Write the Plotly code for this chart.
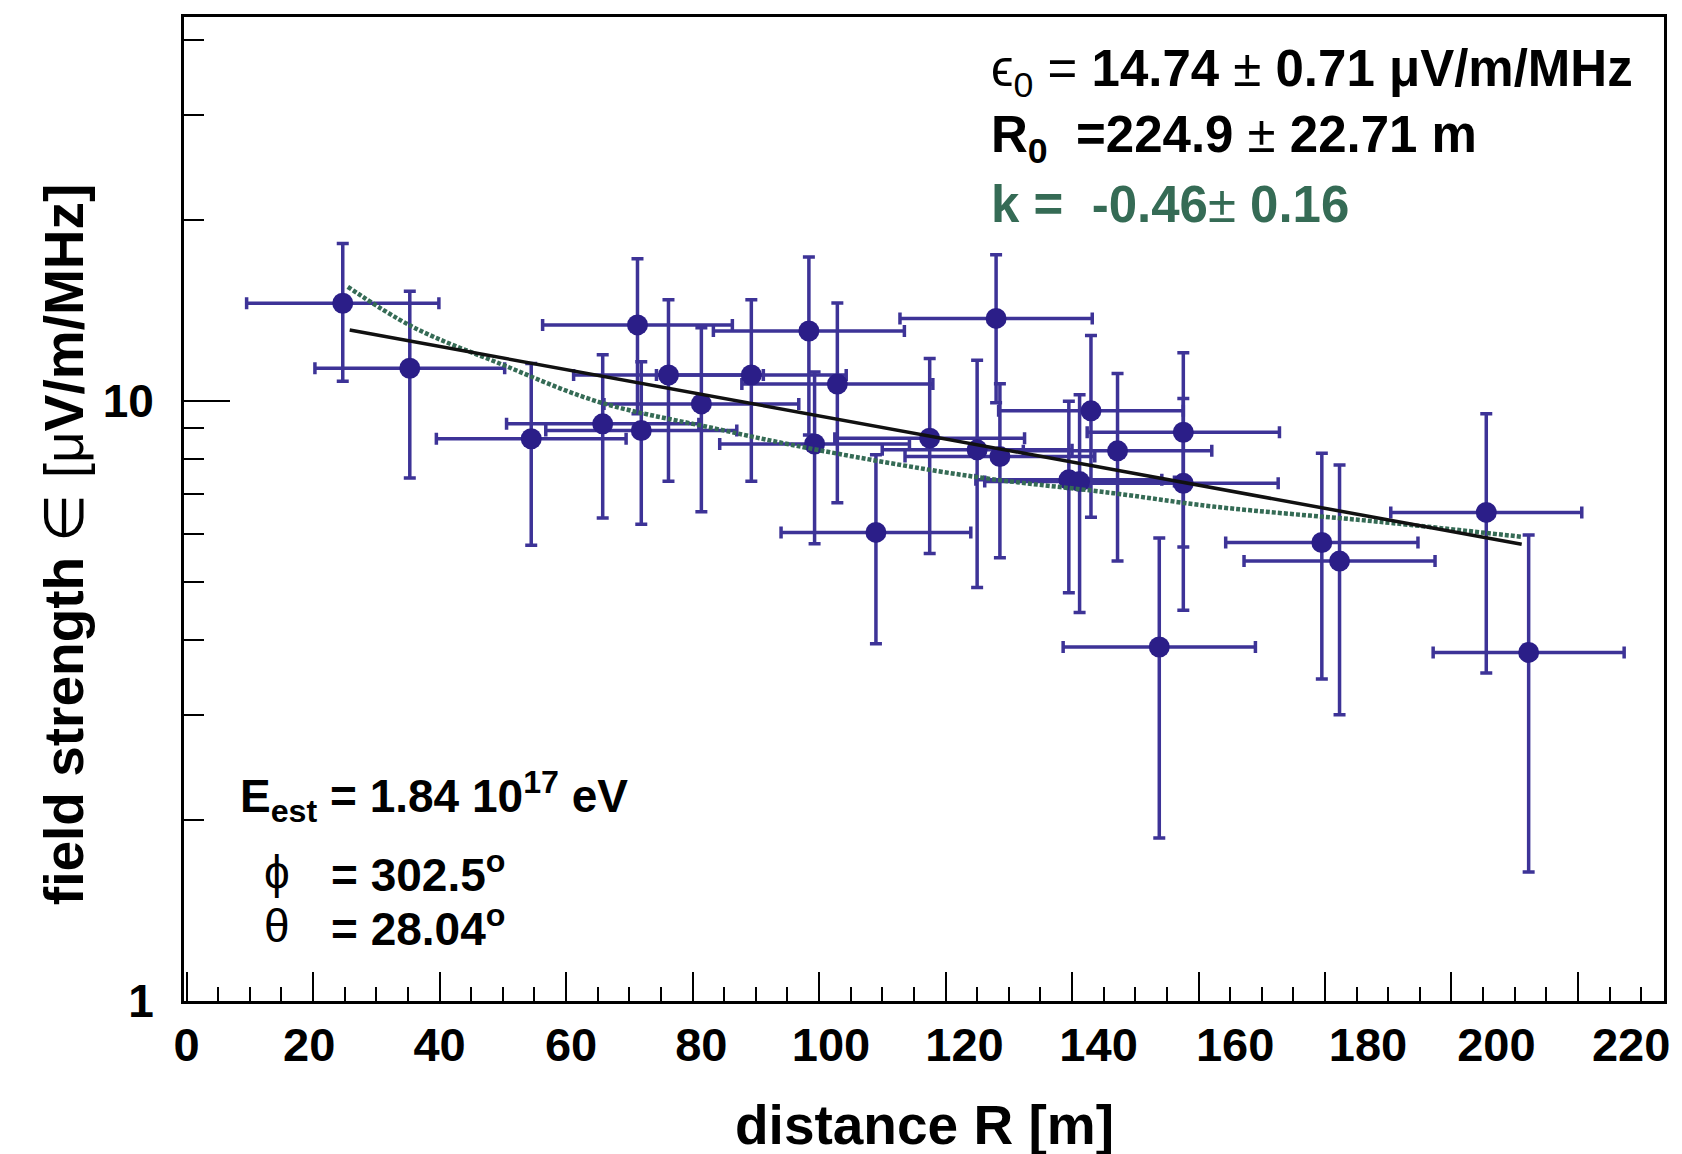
import plotly.graph_objects as go

# ---------------- data ----------------
distance = [24.7, 35.3, 54.5, 65.8, 71.3, 71.9, 76.2, 81.4, 89.3, 98.4, 99.3, 102.9,
            109.0, 117.5, 125.0, 128.0, 128.6, 139.5, 141.2, 143.0, 147.2, 153.8,
            157.6, 157.6, 179.5, 182.3, 205.5, 212.2]
distance_err = [15.2, 15.0, 15.0, 15.2, 15.0, 15.1, 15.0, 15.4, 15.0, 15.1, 15.0, 15.1,
                15.0, 15.0, 15.0, 15.2, 15.0, 14.7, 15.0, 14.6, 14.9, 15.2,
                15.2, 15.0, 15.2, 15.1, 15.1, 15.1]
field = [14.55, 11.34, 8.65, 9.16, 13.39, 8.93, 11.05, 9.89, 11.05, 13.08, 8.48, 10.67,
         6.04, 8.67, 8.29, 13.73, 8.08, 7.39, 7.34, 9.63, 8.26, 3.89,
         8.87, 7.29, 5.81, 5.41, 6.52, 3.81]
field_err = [3.76, 3.90, 2.90, 2.78, 3.87, 2.70, 3.70, 3.35, 3.70, 4.30, 2.70, 3.90,
             2.10, 3.10, 3.40, 3.80, 2.60, 2.60, 2.90, 3.23, 2.85, 2.02,
             3.16, 2.81, 2.37, 2.41, 3.00, 2.17]

# exponential fit line (straight on log scale) - end points
exp_fit_R = [25.8, 211.1]
exp_fit_eps = [13.13, 5.77]

# power-law fit (green dotted)
pow_fit_R = [25.5, 35.7, 49.4, 65.1, 83.5, 100.0, 124.5, 146.6, 162.3, 188.6, 211.0]
pow_fit_eps = [15.5, 13.3, 11.56, 9.97, 9.0, 8.28, 7.48, 7.02, 6.67, 6.29, 5.94]

x_tick_values = [0, 20, 40, 60, 80, 100, 120, 140, 160, 180, 200, 220]
x_tick_labels = ["0", "20", "40", "60", "80", "100", "120", "140", "160", "180", "200", "220"]
x_label_positions = [0, 19.4, 40.0, 60.8, 81.4, 101.9, 123.0, 144.2, 165.8, 186.8, 207.1, 228.4]
y_tick_values = [1, 10]
y_tick_labels = ["1", "10"]
y_minor_values = [2, 3, 4, 5, 6, 7, 8, 9, 20, 30, 40]

# ---------------- styling ----------------
FONT = "Liberation Sans, Arial, Helvetica, sans-serif"
MARKER = "#2b1e88"
ERR = "#3d3397"
GREEN = "#356b55"
X_RANGE = [-0.4, 233.6]

fig = go.Figure()

fig.add_trace(go.Scatter(
    x=distance, y=field, mode="markers",
    marker=dict(size=21, color=MARKER),
    error_x=dict(type="data", array=distance_err, color=ERR, thickness=3.5, width=6),
    error_y=dict(type="data", array=field_err, color=ERR, thickness=3.5, width=6),
    showlegend=False, hoverinfo="x+y"))

fig.add_trace(go.Scatter(
    x=pow_fit_R, y=pow_fit_eps, mode="lines",
    line=dict(color=GREEN, width=4.5, dash="4px,2px", shape="spline"),
    showlegend=False))

fig.add_trace(go.Scatter(
    x=exp_fit_R, y=exp_fit_eps, mode="lines",
    line=dict(color="#111111", width=3.5),
    showlegend=False))

# invisible trace to carry the label axis
fig.add_trace(go.Scatter(
    x=distance, y=field, xaxis="x2", mode="markers",
    marker=dict(opacity=0), showlegend=False, hoverinfo="skip"))

fig.update_layout(
    width=1682, height=1154,
    margin=dict(l=184, r=13, t=17, b=153),
    paper_bgcolor="white", plot_bgcolor="white",
    font=dict(family=FONT, color="black"),
    xaxis=dict(
        range=X_RANGE, tickmode="array", tickvals=x_tick_values,
        ticks="inside", ticklen=29, tickwidth=2, tickcolor="black",
        showticklabels=False,
        showline=True, linewidth=3, linecolor="black", mirror=True,
        showgrid=False, zeroline=False,
        minor=dict(dtick=5, tick0=0, ticks="inside", ticklen=14, tickwidth=2,
                   tickcolor="black", showgrid=False),
    ),
    xaxis2=dict(
        overlaying="x", anchor="y", side="bottom", range=X_RANGE,
        tickmode="array", tickvals=x_label_positions, ticktext=x_tick_labels,
        ticks="", showline=False, showgrid=False, zeroline=False,
        tickfont=dict(family=FONT, size=47, weight="bold", color="black"),
        ticklabelstandoff=12,
    ),
    yaxis=dict(
        type="log", range=[0, 1.64],
        tickmode="array", tickvals=y_tick_values, ticktext=y_tick_labels,
        ticks="inside", ticklen=46, tickwidth=2, tickcolor="black",
        tickfont=dict(family=FONT, size=46, weight="bold", color="black"),
        ticklabelstandoff=18,
        showline=True, linewidth=3, linecolor="black", mirror=True,
        showgrid=False, zeroline=False,
        minor=dict(tickvals=y_minor_values, ticks="inside", ticklen=20, tickwidth=2,
                   tickcolor="black", showgrid=False),
    ),
)

annotations = [
    # axis titles
    dict(text="<b>distance R [m]</b>", x=0.5003, y=-0.126, xref="paper", yref="paper",
         xanchor="center", yanchor="middle", showarrow=False,
         font=dict(family=FONT, size=55, color="black")),
    dict(text="<b>field strength </b>∈ [μ<b>V/m/MHz]</b>", x=-0.081, y=0.4634,
         xref="paper", yref="paper", xanchor="center", yanchor="middle",
         textangle=-90, showarrow=False,
         font=dict(family=FONT, size=55, color="black")),
    # fit results, top right
    dict(text="ϵ<sub>0</sub> = <b>14.74</b> ± <b>0.71 μV/m/MHz</b>", x=0.5441, y=0.9431,
         xref="paper", yref="paper", xanchor="left", yanchor="middle", showarrow=False,
         font=dict(family=FONT, size=51, color="black")),
    dict(text="<b>R<sub>0</sub>  =224.9</b> ± <b>22.71 m</b>", x=0.5441, y=0.877,
         xref="paper", yref="paper", xanchor="left", yanchor="middle", showarrow=False,
         font=dict(family=FONT, size=51, color="black")),
    dict(text="<b>k =  -0.46</b>± <b>0.16</b>", x=0.5441, y=0.809,
         xref="paper", yref="paper", xanchor="left", yanchor="middle", showarrow=False,
         font=dict(family=FONT, size=51, color=GREEN)),
    # event info, bottom left
    dict(text="<b>E<sub>est</sub> = 1.84 10<sup>17</sup> eV</b>", x=0.0364, y=0.2078,
         xref="paper", yref="paper", xanchor="left", yanchor="middle", showarrow=False,
         font=dict(family=FONT, size=46, color="black")),
    dict(text="ϕ", x=0.0525, y=0.1316,
         xref="paper", yref="paper", xanchor="left", yanchor="middle", showarrow=False,
         font=dict(family=FONT, size=46, color="black")),
    dict(text="<b>= 302.5<sup>o</sup></b>", x=0.098, y=0.1316,
         xref="paper", yref="paper", xanchor="left", yanchor="middle", showarrow=False,
         font=dict(family=FONT, size=46, color="black")),
    dict(text="θ", x=0.0525, y=0.0767,
         xref="paper", yref="paper", xanchor="left", yanchor="middle", showarrow=False,
         font=dict(family=FONT, size=46, color="black")),
    dict(text="<b>= 28.04<sup>o</sup></b>", x=0.098, y=0.0767,
         xref="paper", yref="paper", xanchor="left", yanchor="middle", showarrow=False,
         font=dict(family=FONT, size=46, color="black")),
]
fig.update_layout(annotations=annotations)

fig.write_html("out.html")
